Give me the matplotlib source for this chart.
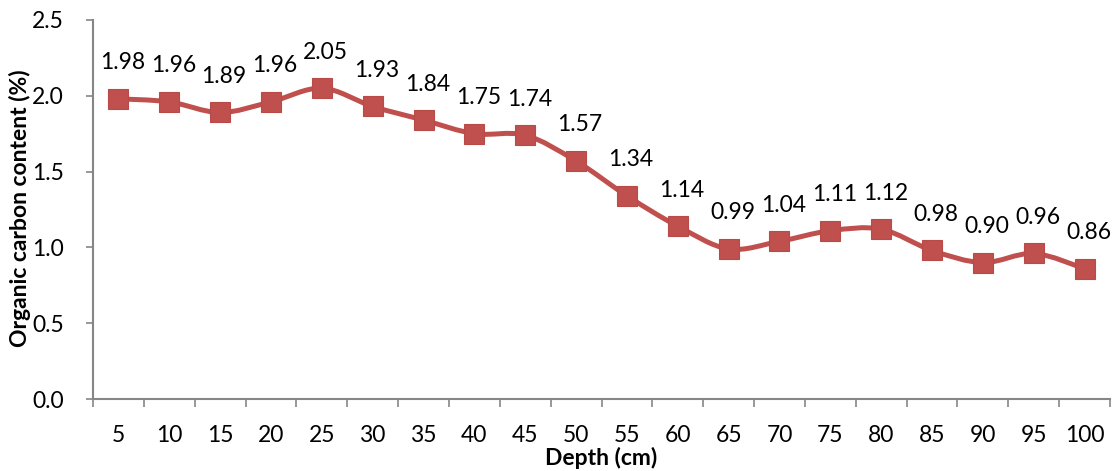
import numpy as np
import matplotlib
matplotlib.use('Agg')
import matplotlib.pyplot as plt
from matplotlib.path import Path
from matplotlib.patches import PathPatch

plt.rcParams['font.family'] = ['Lato', 'DejaVu Sans']

depths = [5, 10, 15, 20, 25, 30, 35, 40, 45, 50, 55, 60, 65, 70, 75, 80, 85, 90, 95, 100]
carbon = [1.98, 1.96, 1.89, 1.96, 2.05, 1.93, 1.84, 1.75, 1.74, 1.57, 1.34, 1.14,
          0.99, 1.04, 1.11, 1.12, 0.98, 0.90, 0.96, 0.86]

red = '#C0504D'
grey = '#868686'
fs = 16.5

fig = plt.figure(figsize=(11.16, 4.71), dpi=100)
ax = fig.add_axes([93 / 1116, 1 - 399 / 471, 1017 / 1116, 379 / 471])

x = np.arange(len(depths), dtype=float)
y = np.array(carbon)

# smoothed line: cubic bezier segments through each point (catmull-rom style)
pts = np.column_stack([x, y])
verts = [pts[0]]
codes = [Path.MOVETO]
n = len(pts)
for i in range(n - 1):
    p0 = pts[i - 1] if i > 0 else pts[i]
    p1 = pts[i]
    p2 = pts[i + 1]
    p3 = pts[i + 2] if i + 2 < n else pts[i + 1]
    c1 = p1 + (p2 - p0) / 6
    c2 = p2 - (p3 - p1) / 6
    verts += [c1, c2, p2]
    codes += [Path.CURVE4] * 3
ax.add_patch(PathPatch(Path(verts, codes), facecolor='none', edgecolor=red,
                       lw=3.6, capstyle='round', joinstyle='round', zorder=2))
ax.plot(x, y, ls='none', marker='s', ms=14, color=red, mec='#B84A47', mew=0.8, zorder=3)

for xi, yi in zip(x, y):
    ax.annotate(f'{yi:.2f}', (xi, yi), xytext=(4, 36), textcoords='offset pixels',
                ha='center', va='center', fontsize=fs, color='black')

ax.set_xlim(-0.5, len(depths) - 0.5)
ax.set_ylim(0, 2.5)
ax.set_yticks(np.arange(0, 2.51, 0.5))
ax.set_yticklabels([f'{v:.1f}' for v in np.arange(0, 2.51, 0.5)])

ax.set_xticks(x)
ax.set_xticklabels([str(d) for d in depths])
ax.set_xticks(np.arange(-0.5, len(depths)), minor=True)
ax.tick_params(axis='x', which='major', length=0, pad=19, labelsize=fs)
ax.tick_params(axis='x', which='minor', length=6, width=1.2, color=grey, direction='out')
ax.tick_params(axis='y', length=5, width=1.2, color=grey, pad=16, labelsize=fs)

for side in ['top', 'right']:
    ax.spines[side].set_visible(False)
for side in ['left', 'bottom']:
    ax.spines[side].set_color(grey)
    ax.spines[side].set_linewidth(1.5)

fig.text(20 / 1116, 1 - 208 / 471, 'Organic carbon content (%)', rotation=90,
         ha='center', va='center', fontsize=fs, fontweight='bold')
fig.text(601 / 1116, 1 - 458 / 471, 'Depth (cm)', ha='center', va='center',
         fontsize=fs, fontweight='bold')

fig.savefig('out.png', dpi=100)
